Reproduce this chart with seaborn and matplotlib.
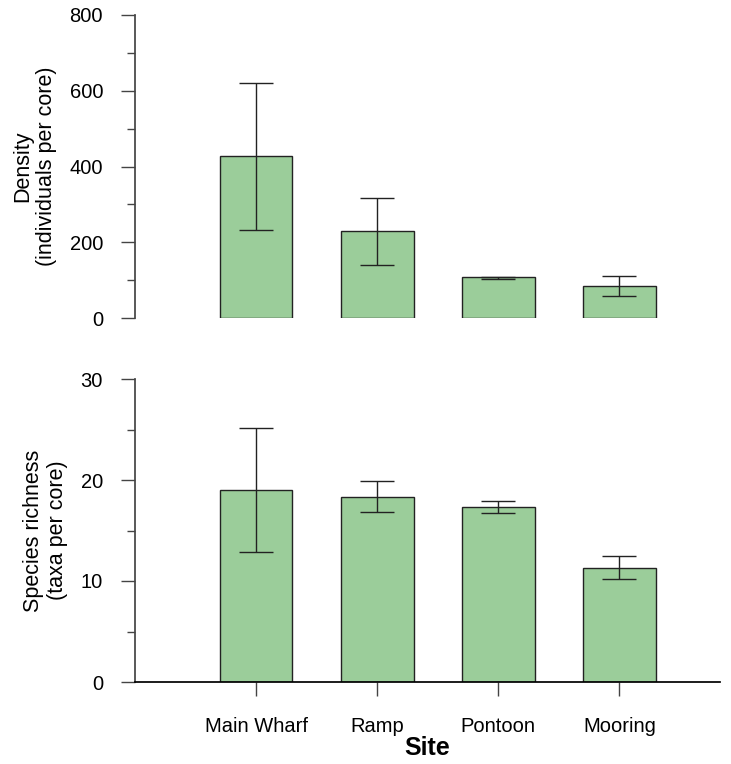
import numpy as np
import pandas as pd
import matplotlib
matplotlib.use("Agg")
import matplotlib.pyplot as plt
from matplotlib.ticker import MultipleLocator
import seaborn as sns

sites = ["Main Wharf", "Ramp", "Pontoon", "Mooring"]

density_mean = [428, 230, 107, 84]
density_low = [232, 141, 104, 58]
density_high = [621, 318, 109, 111]

richness_mean = [19.0, 18.35, 17.3, 11.3]
richness_low = [12.9, 16.8, 16.75, 10.2]
richness_high = [25.1, 19.9, 17.95, 12.5]

sns.set_theme(style="ticks")
plt.rcParams["font.family"] = ["Liberation Sans", "DejaVu Sans"]
plt.rcParams["text.color"] = "black"
plt.rcParams["axes.labelcolor"] = "black"
plt.rcParams["xtick.labelcolor"] = "black"
plt.rcParams["ytick.labelcolor"] = "black"

bar_color = "#9bcd9a"

fig = plt.figure(figsize=(7.31, 7.64), dpi=100)
W, H = 731, 764
ax1 = fig.add_axes([135 / W, 1 - 318 / H, 585 / W, 303 / H])
ax2 = fig.add_axes([135 / W, 1 - 682 / H, 585 / W, 303 / H])


def draw_panel(ax, mean, low, high, ymax, major, minor, ylabel):
    df = pd.DataFrame({"site": sites, "value": mean})
    sns.barplot(data=df, x="site", y="value", color=bar_color, saturation=1,
                width=0.6, edgecolor="#222222", linewidth=1, errorbar=None, ax=ax)
    mean = np.array(mean)
    yerr = [mean - np.array(low), np.array(high) - mean]
    ax.errorbar(np.arange(len(sites)), mean, yerr=yerr, fmt="none",
                ecolor="#222222", elinewidth=1, capsize=12.5, capthick=1)
    ax.set_xlim(-1.0, 3.83)
    ax.set_ylim(0, ymax)
    ax.yaxis.set_major_locator(MultipleLocator(major))
    ax.yaxis.set_minor_locator(MultipleLocator(minor))
    ax.tick_params(axis="y", which="major", length=10, width=1, color="#444444",
                   labelsize=14.5, pad=13)
    ax.tick_params(axis="y", which="minor", length=5.5, width=1, color="#444444")
    ax.set_ylabel(ylabel, fontsize=15.5, labelpad=9)
    ax.spines["top"].set_visible(False)
    ax.spines["right"].set_visible(False)
    ax.spines["left"].set_color("#444444")
    ax.spines["left"].set_bounds(0, ymax)


draw_panel(ax1, density_mean, density_low, density_high, 800, 200, 100,
           "Density\n(individuals per core)")
ax1.spines["bottom"].set_visible(False)
ax1.set_xticks([])
ax1.set_xlabel("")

draw_panel(ax2, richness_mean, richness_low, richness_high, 30, 10, 5,
           "Species richness\n(taxa per core)")
ax2.spines["bottom"].set_color("black")
ax2.tick_params(axis="x", length=10, width=1, color="#444444", labelsize=14.5, pad=15)
ax2.set_xlabel("Site", fontsize=18, fontweight="bold", labelpad=0)

fig.savefig("out.png", dpi=100)
